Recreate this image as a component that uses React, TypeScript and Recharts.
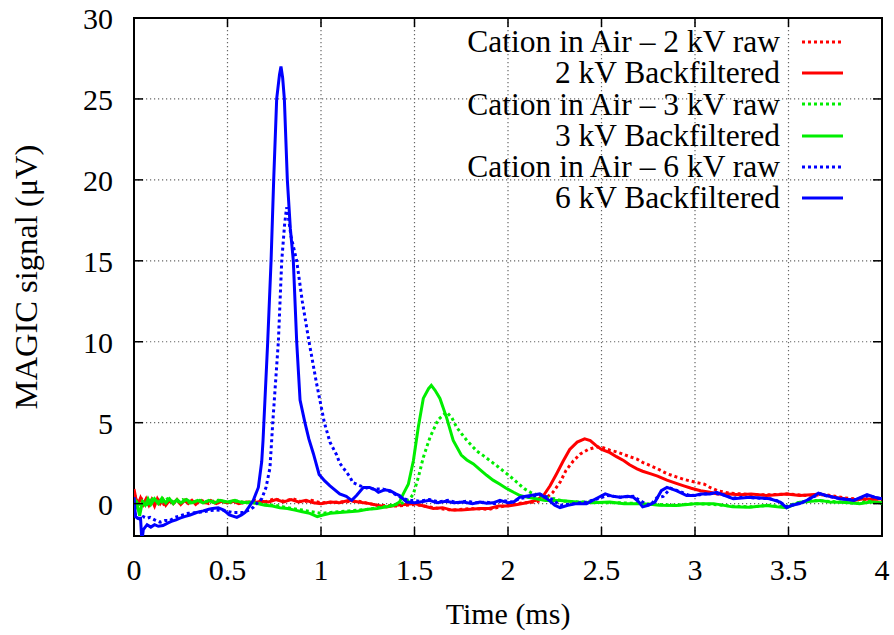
import React from 'react';
import { LineChart, Line, XAxis, YAxis, CartesianGrid, ReferenceArea, Legend } from 'recharts';

// ---------- data (time in ms, signal in µV) ----------
const red2kvRaw: [number, number][] = [
  [0, 0.6], [0.02, 0.1], [0.04, 0.3], [0.06, -0.1], [0.08, 0.3], [0.1, 0], [0.13, 0.25], [0.16, -0.05],
  [0.2, 0.2], [0.24, 0], [0.28, 0.25], [0.32, 0.05], [0.36, 0.2], [0.4, 0], [0.45, 0.2], [0.5, 0.05],
  [0.55, 0.15], [0.6, 0.05], [0.65, 0.2], [0.7, 0.1], [0.75, 0.3], [0.8, 0.15], [0.85, 0.3], [0.9, 0.1],
  [0.95, 0.2], [1.0, 0.05], [1.1, 0.1], [1.2, 0.15], [1.3, -0.1], [1.4, -0.15], [1.5, -0.05], [1.6, -0.25],
  [1.7, -0.4], [1.8, -0.3], [1.9, -0.35], [2.0, -0.1], [2.08, 0.05], [2.15, 0.1], [2.2, 0.3], [2.24, 0.7],
  [2.28, 1.35], [2.31, 2.05], [2.35, 2.65], [2.385, 3.05], [2.43, 3.35], [2.474, 3.5], [2.51, 3.45],
  [2.545, 3.3], [2.58, 3.2], [2.617, 3.05], [2.65, 2.9], [2.69, 2.75], [2.72, 2.55], [2.76, 2.35],
  [2.8, 2.15], [2.85, 1.85], [2.9, 1.65], [2.94, 1.5], [3.01, 1.3], [3.05, 1.2], [3.08, 1.0], [3.12, 0.8],
  [3.18, 0.65], [3.25, 0.6], [3.3, 0.55], [3.4, 0.55], [3.5, 0.6], [3.6, 0.5], [3.7, 0.55], [3.8, 0.35],
  [3.9, 0.25], [4.0, 0.3],
];

const red2kvFilt: [number, number][] = [
  [0, 0.9], [0.01, 0.3], [0.02, -0.1], [0.035, 0.35], [0.05, -0.05], [0.065, 0.3], [0.08, -0.1], [0.095, 0.25],
  [0.11, -0.15], [0.125, 0.3], [0.14, 0], [0.155, 0.25], [0.17, -0.1], [0.19, 0.2], [0.21, 0], [0.23, 0.25],
  [0.25, -0.05], [0.27, 0.2], [0.29, 0], [0.31, 0.2], [0.33, -0.05], [0.35, 0.15], [0.38, 0.05], [0.41, 0.2],
  [0.44, 0], [0.47, 0.15], [0.5, 0.05], [0.53, 0.15], [0.56, 0.0], [0.6, 0.1], [0.64, 0.05], [0.68, 0.15],
  [0.72, 0.1], [0.76, 0.25], [0.8, 0.1], [0.84, 0.25], [0.88, 0.1], [0.92, 0.2], [0.96, 0.05], [1.0, 0.0],
  [1.05, 0.1], [1.1, 0.05], [1.15, 0.2], [1.2, 0.1], [1.26, 0], [1.3, -0.1], [1.35, -0.2], [1.4, -0.1],
  [1.45, -0.05], [1.5, 0], [1.55, -0.15], [1.6, -0.3], [1.65, -0.25], [1.7, -0.4], [1.75, -0.4], [1.8, -0.35],
  [1.85, -0.3], [1.9, -0.3], [1.95, -0.15], [2.0, -0.15], [2.05, -0.05], [2.1, 0.05], [2.15, 0.2], [2.19, 0.5],
  [2.225, 1.1], [2.26, 1.85], [2.296, 2.65], [2.33, 3.35], [2.37, 3.8], [2.41, 4.0], [2.44, 3.9], [2.47, 3.6],
  [2.5, 3.35], [2.545, 3.15], [2.58, 2.9], [2.62, 2.65], [2.65, 2.4], [2.69, 2.15], [2.72, 2.0], [2.76, 1.85],
  [2.8, 1.7], [2.85, 1.45], [2.9, 1.25], [2.94, 1.1], [2.98, 0.95], [3.03, 0.8], [3.08, 0.7], [3.12, 0.6],
  [3.18, 0.6], [3.24, 0.55], [3.3, 0.6], [3.38, 0.5], [3.44, 0.55], [3.49, 0.6], [3.56, 0.5], [3.62, 0.55],
  [3.67, 0.6], [3.74, 0.4], [3.8, 0.3], [3.85, 0.2], [3.9, 0.3], [3.95, 0.25], [4.0, 0.3],
];

const green3kvRaw: [number, number][] = [
  [0, 0.2], [0.02, -0.3], [0.04, 0.2], [0.07, -0.05], [0.1, 0.3], [0.14, 0.05], [0.18, 0.3], [0.22, 0.05],
  [0.26, 0.25], [0.3, 0.05], [0.35, 0.2], [0.4, 0.1], [0.45, 0.2], [0.5, 0.05], [0.55, 0.15], [0.6, 0.05],
  [0.65, 0.05], [0.7, -0.05], [0.75, -0.1], [0.8, -0.2], [0.85, -0.3], [0.9, -0.4], [0.95, -0.5], [1.0, -0.6],
  [1.05, -0.55], [1.1, -0.5], [1.15, -0.45], [1.2, -0.4], [1.25, -0.35], [1.3, -0.25], [1.35, -0.15],
  [1.4, -0.05], [1.44, 0.05], [1.476, 0.3], [1.494, 0.6], [1.52, 1.6], [1.547, 2.85], [1.583, 4.1],
  [1.627, 5.2], [1.672, 5.65], [1.7, 5.3], [1.726, 4.7], [1.78, 3.9], [1.833, 3.25], [1.87, 2.95],
  [1.904, 2.65], [1.95, 2.25], [1.993, 1.85], [2.03, 1.5], [2.064, 1.15], [2.09, 0.9], [2.12, 0.7],
  [2.19, 0.4], [2.25, 0.3], [2.3, 0.15], [2.38, 0.1], [2.45, 0.1], [2.52, 0.05], [2.6, 0.05], [2.7, 0.0],
  [2.8, -0.05], [2.9, -0.1], [3.0, 0.0], [3.1, -0.05], [3.2, -0.15], [3.3, -0.2], [3.4, -0.1], [3.48, -0.2],
  [3.55, 0.05], [3.62, 0.2], [3.7, 0.15], [3.78, 0.1], [3.86, 0.0], [3.93, 0.15], [4.0, 0.0],
];

const green3kvFilt: [number, number][] = [
  [0, 0.3], [0.015, 0.1], [0.03, -0.75], [0.045, 0.1], [0.06, -0.1], [0.075, 0.3], [0.09, -0.05], [0.11, 0.3],
  [0.13, 0.0], [0.15, 0.35], [0.17, 0.05], [0.19, 0.3], [0.21, 0.0], [0.23, 0.25], [0.25, 0.05], [0.28, 0.25],
  [0.31, 0.05], [0.34, 0.2], [0.37, 0.05], [0.4, 0.2], [0.43, 0.05], [0.46, 0.2], [0.5, 0.1], [0.54, 0.2],
  [0.58, 0.05], [0.62, 0.1], [0.66, 0.0], [0.7, -0.1], [0.74, -0.15], [0.78, -0.25], [0.82, -0.3], [0.86, -0.4],
  [0.9, -0.5], [0.94, -0.6], [0.98, -0.8], [1.01, -0.7], [1.05, -0.6], [1.1, -0.55], [1.15, -0.5], [1.2, -0.45],
  [1.25, -0.35], [1.3, -0.3], [1.35, -0.2], [1.39, -0.1], [1.42, 0.1], [1.44, 0.6], [1.467, 1.2], [1.494, 2.65],
  [1.52, 4.7], [1.547, 6.5], [1.575, 7.1], [1.59, 7.3], [1.61, 7.0], [1.636, 6.5], [1.672, 5.3], [1.707, 3.9],
  [1.75, 3.0], [1.78, 2.7], [1.815, 2.45], [1.85, 2.1], [1.886, 1.75], [1.92, 1.45], [1.957, 1.2], [1.99, 0.95],
  [2.03, 0.7], [2.064, 0.5], [2.1, 0.4], [2.15, 0.3], [2.2, 0.2], [2.28, 0.2], [2.367, 0.1], [2.45, 0.05],
  [2.545, 0.1], [2.62, 0.0], [2.72, 0.0], [2.81, -0.1], [2.9, -0.12], [2.96, -0.05], [3.01, 0], [3.1, 0.0],
  [3.2, -0.2], [3.29, -0.22], [3.38, -0.12], [3.44, -0.2], [3.49, -0.25], [3.56, 0.08], [3.62, 0.15],
  [3.67, 0.2], [3.72, 0.1], [3.775, 0.08], [3.83, 0.05], [3.88, 0], [3.94, 0.1], [4.0, 0.05],
];

const blue6kvRaw: [number, number][] = [
  [0, -0.2], [0.01, -0.85], [0.03, -0.95], [0.05, -0.8], [0.07, -0.9], [0.086, -0.85], [0.11, -1.0],
  [0.14, -1.15], [0.165, -1.05], [0.19, -1.05], [0.22, -0.85], [0.246, -0.75], [0.29, -0.6], [0.335, -0.55],
  [0.37, -0.5], [0.406, -0.43], [0.44, -0.4], [0.478, -0.43], [0.53, -0.55], [0.585, -0.55], [0.615, -0.4],
  [0.638, -0.23], [0.66, 0.05], [0.683, 0.3], [0.706, 1.0], [0.727, 2.2], [0.742, 5], [0.772, 10], [0.79, 15],
  [0.805, 17.2], [0.816, 18.3], [0.822, 18.0], [0.84, 16.5], [0.87, 15], [0.9, 12.5], [0.936, 10], [0.975, 7.5],
  [1.018, 5], [1.048, 3.8], [1.084, 3.0], [1.1, 2.5], [1.155, 1.65], [1.17, 1.3], [1.21, 1.1], [1.25, 0.95],
  [1.29, 0.9], [1.33, 0.9], [1.37, 0.75], [1.4, 0.55], [1.44, 0.3], [1.48, 0.2], [1.53, 0.15], [1.58, 0.25],
  [1.63, 0.1], [1.68, 0.2], [1.73, 0.05], [1.78, 0.15], [1.83, 0.05], [1.88, 0.1], [1.93, 0.0], [1.97, 0.2],
  [2.02, 0.1], [2.06, 0.3], [2.12, 0.45], [2.18, 0.55], [2.23, 0.3], [2.28, -0.1], [2.35, 0.0], [2.42, 0.1],
  [2.48, 0.3], [2.53, 0.5], [2.6, 0.4], [2.67, 0.45], [2.72, 0.1], [2.76, -0.1], [2.795, 0.35], [2.83, 0.45],
  [2.87, 0.95], [2.92, 0.75], [2.96, 0.55], [3.0, 0.5], [3.05, 0.6], [3.1, 0.65], [3.15, 0.55], [3.2, 0.35],
  [3.26, 0.4], [3.32, 0.35], [3.4, 0.3], [3.45, 0.15], [3.49, -0.2], [3.53, -0.05], [3.58, 0.1], [3.62, 0.35],
  [3.67, 0.6], [3.71, 0.45], [3.76, 0.35], [3.82, 0.25], [3.86, 0.25], [3.9, 0.4], [3.93, 0.5], [3.97, 0.35],
  [4.0, 0.3],
];

const blue6kvFilt: [number, number][] = [
  [0, 0.4], [0.008, -0.8], [0.02, -0.9], [0.035, -0.9], [0.042, -2.3], [0.05, -1.6], [0.07, -1.3], [0.09, -1.45],
  [0.11, -1.3], [0.13, -1.4], [0.155, -1.35], [0.18, -1.2], [0.2, -1.1], [0.225, -1.0], [0.246, -0.9],
  [0.27, -0.8], [0.3, -0.7], [0.335, -0.55], [0.37, -0.45], [0.4, -0.35], [0.42, -0.3], [0.45, -0.25],
  [0.48, -0.4], [0.51, -0.7], [0.55, -0.85], [0.575, -0.7], [0.594, -0.55], [0.615, -0.2], [0.638, 0.2],
  [0.665, 1.0], [0.683, 2.6], [0.69, 3.9], [0.715, 10], [0.733, 15], [0.747, 20], [0.763, 25], [0.778, 26.5],
  [0.786, 27.0], [0.795, 26.3], [0.804, 25], [0.82, 20], [0.836, 17], [0.852, 15], [0.87, 10], [0.888, 6.4],
  [0.914, 5], [0.935, 4], [0.959, 3.1], [0.99, 1.8], [1.02, 1.4], [1.048, 1.1], [1.1, 0.6], [1.135, 0.45],
  [1.164, 0.2], [1.19, 0.5], [1.226, 1.0], [1.26, 1.0], [1.29, 0.85], [1.307, 0.7], [1.34, 0.85], [1.37, 0.8],
  [1.4, 0.6], [1.42, 0.5], [1.458, 0.1], [1.5, 0.05], [1.53, 0.1], [1.58, 0.2], [1.62, 0.05], [1.67, 0.15],
  [1.71, 0.05], [1.76, 0.1], [1.81, 0.0], [1.85, 0.1], [1.886, 0.02], [1.92, 0.05], [1.957, 0.2], [2.0, 0.05],
  [2.03, 0.1], [2.064, 0.4], [2.12, 0.5], [2.17, 0.6], [2.22, 0.2], [2.25, -0.1], [2.278, -0.25], [2.32, -0.1],
  [2.367, 0], [2.42, 0], [2.47, 0.3], [2.52, 0.6], [2.56, 0.45], [2.6, 0.4], [2.64, 0.45], [2.67, 0.4],
  [2.7, 0.1], [2.72, -0.2], [2.75, -0.1], [2.786, 0.1], [2.82, 0.8], [2.85, 1.0], [2.9, 0.8], [2.955, 0.5],
  [3.0, 0.5], [3.03, 0.6], [3.08, 0.6], [3.116, 0.7], [3.16, 0.5], [3.205, 0.3], [3.25, 0.35], [3.294, 0.4],
  [3.35, 0.35], [3.4, 0.3], [3.455, 0.1], [3.49, -0.25], [3.52, -0.1], [3.56, 0], [3.615, 0.3], [3.66, 0.65],
  [3.7, 0.5], [3.74, 0.4], [3.775, 0.3], [3.81, 0.25], [3.85, 0.2], [3.88, 0.35], [3.92, 0.55], [3.96, 0.4],
  [4.0, 0.3],
];

const xTicks = [0, 0.5, 1, 1.5, 2, 2.5, 3, 3.5, 4];
const yTicks = [0, 5, 10, 15, 20, 25, 30];
const xDomain: [number, number] = [0, 4];
const yDomain: [number, number] = [-2, 30];

const seriesNames = [
  'Cation in Air \u2013 2 kV raw',
  '2 kV Backfiltered',
  'Cation in Air \u2013 3 kV raw',
  '3 kV Backfiltered',
  'Cation in Air \u2013 6 kV raw',
  '6 kV Backfiltered',
];
const seriesData = [red2kvRaw, red2kvFilt, green3kvRaw, green3kvFilt, blue6kvRaw, blue6kvFilt];

// ---------- styling ----------
const RED = '#ff0000';
const GREEN = '#00ee00';
const BLUE = '#0000ff';
const seriesColors = [RED, RED, GREEN, GREEN, BLUE, BLUE];
const seriesDotted = [true, false, true, false, true, false];

const FONT = '"Liberation Serif", "Times New Roman", serif';
const FS = 30;
const LEGEND_FS = 31.5;
const YLABEL_FS = 32.5;
const W = 894;
const H = 635;
const PLOT_W = 748;
const PLOT_H = 518;
const TICK = 9;

const toRows = (pts: [number, number][]) => pts.map(([t, v]) => ({ t, v }));

const XTick = (props: any) => {
  const { x, y, payload } = props;
  return (
    <g>
      <line x1={x} y1={y} x2={x} y2={y - TICK} stroke="#000" strokeWidth={1.5} />
      <line x1={x} y1={y - PLOT_H} x2={x} y2={y - PLOT_H + TICK} stroke="#000" strokeWidth={1.5} />
      <text x={x} y={y + 44} textAnchor="middle" fontFamily={FONT} fontSize={FS} fill="#000">
        {String(payload.value)}
      </text>
    </g>
  );
};

const YTick = (props: any) => {
  const { x, y, payload } = props;
  return (
    <g>
      <line x1={x} y1={y} x2={x + TICK} y2={y} stroke="#000" strokeWidth={1.5} />
      <line x1={x + PLOT_W} y1={y} x2={x + PLOT_W - TICK} y2={y} stroke="#000" strokeWidth={1.5} />
      <text x={x - 21} y={y + 11} textAnchor="end" fontFamily={FONT} fontSize={FS} fill="#000">
        {String(payload.value)}
      </text>
    </g>
  );
};

const XLabel = (props: any) => {
  const vb = props.viewBox || { x: 134, y: 536, width: PLOT_W, height: 99 };
  return (
    <text x={vb.x + vb.width / 2} y={vb.y + 88} textAnchor="middle" fontFamily={FONT} fontSize={FS} fill="#000">
      Time (ms)
    </text>
  );
};

const YLabel = (props: any) => {
  const vb = props.viewBox || { x: 0, y: 18, width: 134, height: PLOT_H };
  const cx = 37;
  const cy = vb.y + vb.height / 2;
  return (
    <text
      x={cx}
      y={cy}
      transform={`rotate(-90, ${cx}, ${cy})`}
      textAnchor="middle"
      fontFamily={FONT}
      fontSize={YLABEL_FS}
      fill="#000"
    >
      MAGIC signal (μV)
    </text>
  );
};

const LegendBox = () => (
  <div style={{ fontFamily: FONT, color: '#000' }}>
    {seriesNames.map((name, i) => (
      <div
        key={name}
        style={{
          display: 'flex',
          justifyContent: 'flex-end',
          alignItems: 'center',
          height: 31.3,
          paddingRight: 51,
        }}
      >
        <span style={{ fontSize: LEGEND_FS, lineHeight: '31.3px', whiteSpace: 'nowrap' }}>{name}</span>
        <svg width={41} height={10} style={{ marginLeft: 22, display: 'block' }}>
          <line
            x1={0}
            y1={5}
            x2={41}
            y2={5}
            stroke={seriesColors[i]}
            strokeWidth={3}
            strokeDasharray={seriesDotted[i] ? '3 3' : undefined}
          />
        </svg>
      </div>
    ))}
  </div>
);

export default function App() {
  return (
    <div style={{ position: 'absolute', left: 0, top: 0, width: W, height: H, background: '#fff' }}>
      <LineChart width={W} height={H} margin={{ top: 18, right: 12, left: 0, bottom: 0 }}>
        <CartesianGrid stroke="#666" strokeWidth={1.2} strokeDasharray="1.2 2.8" />
        <XAxis
          dataKey="t"
          type="number"
          domain={xDomain}
          ticks={xTicks}
          allowDataOverflow
          height={99}
          tickSize={0}
          tickMargin={0}
          tickLine={false}
          axisLine={false}
          tick={<XTick />}
          label={<XLabel />}
          interval={0}
        />
        <YAxis
          type="number"
          domain={yDomain}
          ticks={yTicks}
          allowDataOverflow
          width={134}
          tickSize={0}
          tickMargin={0}
          tickLine={false}
          axisLine={false}
          tick={<YTick />}
          label={<YLabel />}
          interval={0}
        />
        {seriesData.map((pts, i) => (
          <Line
            key={seriesNames[i]}
            data={toRows(pts)}
            dataKey="v"
            type="linear"
            stroke={seriesColors[i]}
            strokeWidth={3}
            strokeDasharray={seriesDotted[i] ? '3 3' : undefined}
            dot={false}
            activeDot={false}
            isAnimationActive={false}
            name={seriesNames[i]}
          />
        ))}
        <ReferenceArea
          x1={0}
          x2={4}
          y1={-2}
          y2={30}
          fill="none"
          fillOpacity={0}
          stroke="#000"
          strokeWidth={2}
          ifOverflow="visible"
        />
        <Legend
          layout="horizontal"
          verticalAlign="middle"
          align="center"
          content={<LegendBox />}
          wrapperStyle={{ left: 0, top: 26, width: W, height: 190 }}
        />
      </LineChart>
    </div>
  );
}
